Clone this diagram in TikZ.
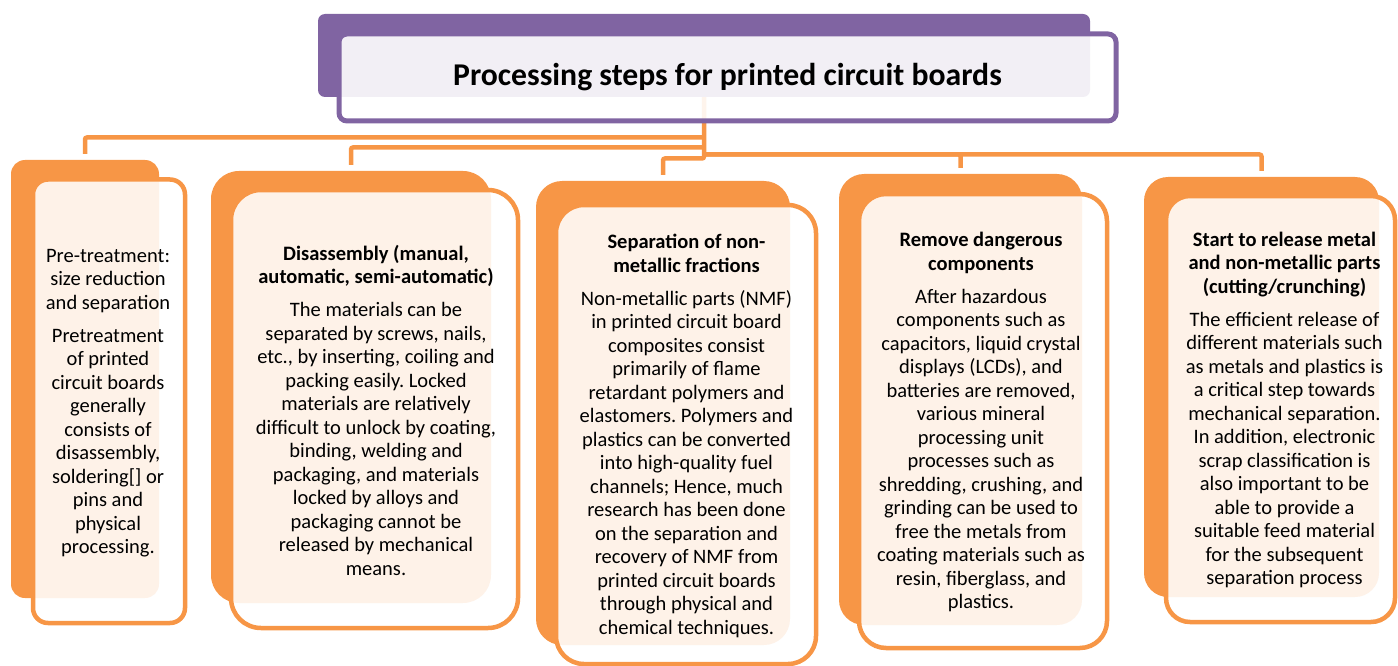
\documentclass[tikz,border=0pt]{standalone}
\usepackage{fontspec}
\setmainfont{Carlito}
\frenchspacing
\definecolor{accent}{HTML}{F79646}
\definecolor{plum}{HTML}{8064A2}
\tikzset{
  backbox/.style={shape=rectangle, fill=accent, inner sep=0pt, rounded corners=#1},
  frontbox/.style={shape=rectangle, draw=accent, line width=4.5pt, fill=white,
    fill opacity=0.88, inner sep=0pt, rounded corners=#1},
  titleback/.style={shape=rectangle, fill=plum, inner sep=0pt, rounded corners=7pt},
  titlefront/.style={shape=rectangle, draw=plum, line width=5pt, fill=white,
    fill opacity=0.9, inner sep=0pt, rounded corners=8pt},
  link/.style={draw=accent, line width=4.5pt, rounded corners=2pt},
  bodytext/.style={align=center, inner sep=0pt, text=black,
    font=\fontsize{20.5}{23.5}\selectfont},
  headtext/.style={align=center, inner sep=0pt, text=black,
    font=\fontsize{31.7}{38}\selectfont\bfseries}
}
\begin{document}
\begin{tikzpicture}[x=1pt,y=-1pt]
\useasboundingbox (0,0) rectangle (1398,666);

% title: filled block behind an outlined block
\node[titleback, minimum width=772pt, minimum height=83pt] (tback) at (704,55.5) {};

% back blocks of the five steps
\node[backbox=14pt, minimum width=148pt, minimum height=438pt] (back1) at (85,379) {};
\node[backbox=28pt, minimum width=280pt, minimum height=432pt] (back2) at (351,387) {};
\node[backbox=26pt, minimum width=254pt, minimum height=464pt] (back3) at (663,413) {};
\node[backbox=25pt, minimum width=243pt, minimum height=451pt] (back4) at (960.5,399.5) {};
\node[backbox=24pt, minimum width=235pt, minimum height=420pt] (back5) at (1261.5,387) {};

% connectors from the title to every step
\coordinate (trunk) at (tback.south);
\coordinate (split1) at (704,137.5);
\coordinate (split2) at (704,147.5);
\coordinate (split3) at (704,158.5);
\coordinate (split4) at (704,154.5);
\draw[link] (trunk) -- (split3) -| ([yshift=6pt]back3.north);
\draw[link] (split1) -| ([yshift=6pt]back1.north);
\draw[link] (split2) -| ([yshift=6pt]back2.north);
\draw[link] (split4) -| ([yshift=6pt]back4.north);
\draw[link] (split4) -| ([yshift=6pt]back5.north);

% title front block and caption
\node[titlefront, minimum width=777pt, minimum height=87pt] (title) at (727.5,77.5) {};
\node[headtext] (titletext) at (title.center) {Processing steps for printed circuit boards};

% front blocks of the five steps
\node[frontbox=15pt, minimum width=152pt, minimum height=443.5pt] (box1) at (109,401.25) {};
\node[frontbox=30pt, minimum width=287pt, minimum height=438pt] (box2) at (374.5,409) {};
\node[frontbox=28pt, minimum width=260pt, minimum height=459pt] (box3) at (686,434.5) {};
\node[frontbox=27pt, minimum width=248pt, minimum height=454pt] (box4) at (983,421) {};
\node[frontbox=24pt, minimum width=229pt, minimum height=426pt] (box5) at (1280.5,409) {};

% step texts
\node[bodytext] (text1) at ([xshift=-1pt,yshift=-2pt]box1.center) {Pre-treatment:\\size reduction\\and separation\\[9.5pt]
Pretreatment\\of printed\\circuit boards\\generally\\consists of\\disassembly,\\soldering[] or\\pins and\\physical\\processing.};

\node[bodytext] (text2) at ([xshift=1.5pt,yshift=-1pt]box2.center) {\textbf{Disassembly (manual,}\\\textbf{automatic, semi-automatic)}\\[9.5pt]
The materials can be\\separated by screws, nails,\\etc., by inserting, coiling and\\packing easily. Locked\\materials are relatively\\difficult to unlock by coating,\\binding, welding and\\packaging, and materials\\locked by alloys and\\packaging cannot be\\released by mechanical\\means.};

\node[bodytext] (text3) at ([xshift=0.5pt,yshift=-1.5pt]box3.center) {\textbf{Separation of non-}\\\textbf{metallic fractions}\\[9.5pt]
Non-metallic parts (NMF)\\in printed circuit board\\composites consist\\primarily of flame\\retardant polymers and\\elastomers. Polymers and\\plastics can be converted\\into high-quality fuel\\channels; Hence, much\\research has been done\\on the separation and\\recovery of NMF from\\printed circuit boards\\through physical and\\chemical techniques.};

\node[bodytext] (text4) at ([xshift=-2pt,yshift=-1pt]box4.center) {\textbf{Remove dangerous}\\\textbf{components}\\[9.5pt]
After hazardous\\components such as\\capacitors, liquid crystal\\displays (LCDs), and\\batteries are removed,\\various mineral\\processing unit\\processes such as\\shredding, crushing, and\\grinding can be used to\\free the metals from\\coating materials such as\\resin, fiberglass, and\\plastics.};

\node[bodytext] (text5) at ([xshift=4pt,yshift=-1pt]box5.center) {\textbf{Start to release metal}\\\textbf{and non-metallic parts}\\\textbf{(cutting/crunching)}\\[9.5pt]
The efficient release of\\different materials such\\as metals and plastics is\\a critical step towards\\mechanical separation.\\In addition, electronic\\scrap classification is\\also important to be\\able to provide a\\suitable feed material\\for the subsequent\\separation process};
\end{tikzpicture}
\end{document}
